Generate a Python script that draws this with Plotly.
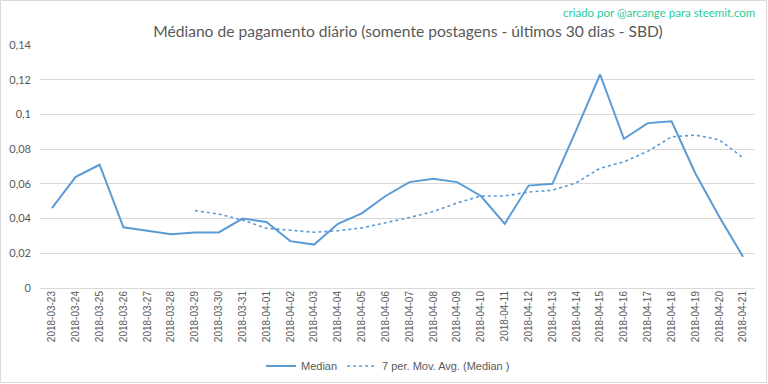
import plotly.graph_objects as go

dates = ["2018-03-23", "2018-03-24", "2018-03-25", "2018-03-26", "2018-03-27", "2018-03-28",
         "2018-03-29", "2018-03-30", "2018-03-31", "2018-04-01", "2018-04-02", "2018-04-03",
         "2018-04-04", "2018-04-05", "2018-04-06", "2018-04-07", "2018-04-08", "2018-04-09",
         "2018-04-10", "2018-04-11", "2018-04-12", "2018-04-13", "2018-04-14", "2018-04-15",
         "2018-04-16", "2018-04-17", "2018-04-18", "2018-04-19", "2018-04-20", "2018-04-21"]

median = [0.046, 0.064, 0.071, 0.035, 0.033, 0.031, 0.032, 0.032, 0.040, 0.038, 0.027, 0.025,
          0.037, 0.043, 0.053, 0.061, 0.063, 0.061, 0.053, 0.037, 0.059, 0.060, 0.091, 0.123,
          0.086, 0.095, 0.096, 0.066, 0.041, 0.018]

mov_avg = [None, None, None, None, None, None, 0.0446, 0.0426, 0.0391, 0.0344, 0.0333, 0.0321,
           0.0330, 0.0346, 0.0376, 0.0406, 0.0441, 0.0490, 0.0530, 0.0530, 0.0553, 0.0563,
           0.0606, 0.0690, 0.0727, 0.0787, 0.0871, 0.0881, 0.0854, 0.0750]

y_ticks = [0, 0.02, 0.04, 0.06, 0.08, 0.1, 0.12, 0.14]
y_tick_labels = ["0", "0,02", "0,04", "0,06", "0,08", "0,1", "0,12", "0,14"]

title_text = "Médiano de pagamento diário (somente postagens - últimos 30 dias - SBD)"
credit_text = "criado por @arcange para steemit.com"

blue = "#5B9BD5"
gray_text = "#595959"
grid = "#D9D9D9"

fig = go.Figure()
fig.add_trace(go.Scatter(x=dates, y=median, mode="lines", name="Median",
                         line=dict(color=blue, width=2)))
fig.add_trace(go.Scatter(x=dates, y=mov_avg, mode="lines", name="7 per. Mov. Avg. (Median )",
                         line=dict(color=blue, width=1.6, dash="dot"), connectgaps=False))

L, R, T, B = 40, 13, 45, 96
W, H = 768, 384
pw, ph = W - L - R, H - T - B

def px_x(p):
    return (p - L) / pw

def px_y(p):
    return (H - B - p) / ph

fig.update_layout(
    width=W, height=H,
    margin=dict(l=L, r=R, t=T, b=B, autoexpand=False),
    paper_bgcolor="white", plot_bgcolor="white",
    font=dict(family="Lato, Open Sans, sans-serif", color=gray_text, size=11),
    title=dict(text=title_text, xref="container", yref="container",
               x=408 / W, xanchor="center", y=1 - 32 / H, yanchor="middle",
               font=dict(size=15.6, color=gray_text, family="Lato, Open Sans, sans-serif")),
    showlegend=True,
    legend=dict(orientation="h", xref="container", yref="container",
                x=388 / W, xanchor="center", y=1 - 366 / H, yanchor="middle",
                font=dict(size=11, color=gray_text, family="Liberation Sans, Arial, sans-serif"),
                bgcolor="rgba(0,0,0,0)"),
    xaxis=dict(type="category", tickangle=-90, showgrid=False, showline=False,
               ticks="", range=[-0.5, len(dates) - 0.5], automargin=False,
               tickfont=dict(size=10, color=gray_text, family="Liberation Sans, Arial, sans-serif")),
    yaxis=dict(range=[0, 0.14], tickvals=y_ticks, ticktext=y_tick_labels, automargin=False,
               showgrid=True, gridcolor=grid, gridwidth=1, zeroline=True,
               zerolinecolor=grid, zerolinewidth=1, showline=False, ticks="",
               ticklabelstandoff=8,
               tickfont=dict(size=11, color=gray_text)),
    annotations=[dict(text=credit_text, xref="paper", yref="paper",
                      x=px_x(757), y=px_y(13), xanchor="right", yanchor="middle",
                      showarrow=False, font=dict(size=11.5, color="#2BCB9C",
                                                 family="Lato, Open Sans, sans-serif"))],
    shapes=[dict(type="rect", xref="paper", yref="paper",
                 x0=px_x(0.5), x1=px_x(766.5), y0=px_y(382.5), y1=px_y(0.5),
                 line=dict(color=grid, width=1), fillcolor="rgba(0,0,0,0)", layer="below")],
)

fig.write_html("out.html", config={"displayModeBar": False},
               post_script="document.body.style.margin='0px';document.body.style.overflow='hidden';")
